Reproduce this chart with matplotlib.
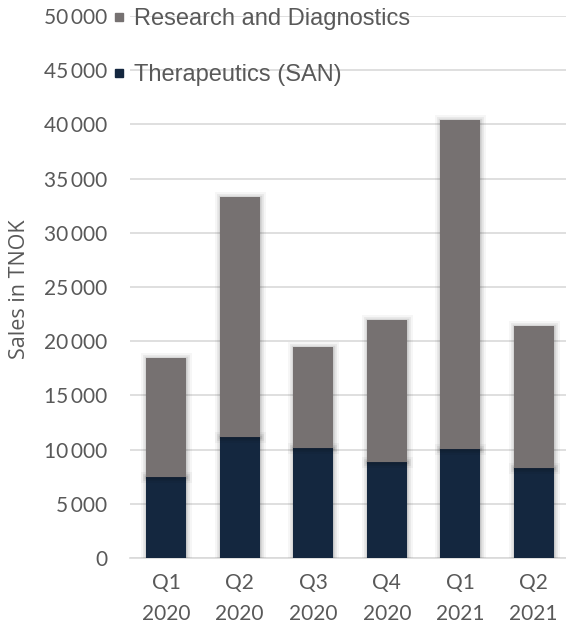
import matplotlib
matplotlib.use("Agg")
import matplotlib.pyplot as plt
import matplotlib.patheffects as pe
from matplotlib.lines import Line2D

quarters = ["Q1\n2020", "Q2\n2020", "Q3\n2020", "Q4\n2020", "Q1\n2021", "Q2\n2021"]
therapeutics = [7430, 11170, 10130, 8840, 10010, 8260]
research_diag = [11000, 22140, 9340, 13130, 30380, 13100]
series_names = ["Therapeutics (SAN)", "Research and Diagnostics"]
y_ticks = list(range(0, 50001, 5000))

NAVY = "#14273F"
GREY = "#767171"
TEXT = "#595959"
GRID = "#D9D9D9"

fig = plt.figure(figsize=(5.66, 6.30), dpi=100)
ax = fig.add_axes([129.5 / 566, 72 / 630, (570.5 - 129.5) / 566, 542 / 630])

x = list(range(len(quarters)))
shadow = [pe.Stroke(linewidth=8, foreground="black", alpha=0.035),
          pe.Stroke(linewidth=5, foreground="black", alpha=0.05),
          pe.Stroke(linewidth=2.5, foreground="black", alpha=0.08),
          pe.Normal()]

b1 = ax.bar(x, therapeutics, width=0.55, color=NAVY, zorder=3, linewidth=0)
b2 = ax.bar(x, research_diag, width=0.55, bottom=therapeutics, color=GREY,
            zorder=3, linewidth=0)
for rect in list(b1) + list(b2):
    rect.set_path_effects(shadow)

ax.set_xlim(-0.5, len(quarters) - 0.5)
ax.set_ylim(0, 50000)
ax.set_yticks(y_ticks)
ax.set_yticklabels([f"{v:,}".replace(",", "\u2009") for v in y_ticks],
                   fontsize=15, color=TEXT, family=["Lato", "DejaVu Sans"])
ax.set_xticks(x)
ax.set_xticklabels(quarters, fontsize=15, color=TEXT, family="Lato",
                   linespacing=1.7)
ax.tick_params(axis="both", length=0)
ax.tick_params(axis="y", pad=16)
ax.tick_params(axis="x", pad=11)

ax.grid(axis="y", color=GRID, linewidth=1.2, zorder=0)
for side in ["top", "right", "left"]:
    ax.spines[side].set_visible(False)
ax.spines["bottom"].set_color(GRID)
ax.spines["bottom"].set_linewidth(1.2)

ax.set_ylabel("Sales in TNOK", fontsize=15.5, color=TEXT, family="Open Sans",
              va="center")
ax.yaxis.set_label_coords((20 - 129.5) / 441, (558 - 289) / 542)

handles = [Line2D([], [], marker="s", linestyle="", markersize=6, color=GREY),
           Line2D([], [], marker="s", linestyle="", markersize=6, color=NAVY)]
leg = fig.legend(handles, [series_names[1], series_names[0]],
                 loc="upper left", bbox_to_anchor=(112 / 566, 1 - 8 / 630),
                 frameon=False, handlelength=0.6, handletextpad=0.35,
                 labelspacing=1.43, borderaxespad=0, borderpad=0,
                 prop={"family": "Liberation Sans", "size": 17})
for t in leg.get_texts():
    t.set_color(TEXT)

fig.savefig("out.png", dpi=100)
